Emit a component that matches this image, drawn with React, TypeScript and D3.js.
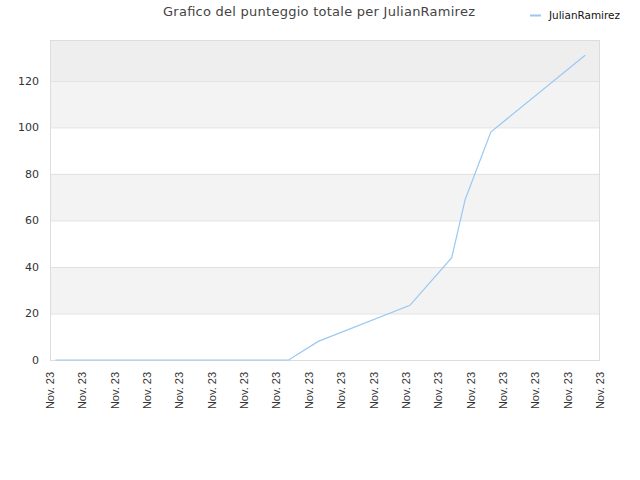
import React from "react";
import * as d3 from "d3";

// Readings
const seriesName = "JulianRamirez";
const pointTimes = [
  "2023-11-01T04:00",
  "2023-11-08T09:00",
  "2023-11-09T07:00",
  "2023-11-12T03:00",
  "2023-11-13T10:00",
  "2023-11-13T20:00",
  "2023-11-14T15:00",
  "2023-11-17T13:00",
];
const pointScores = [0, 0, 8, 23.5, 44, 69, 98, 131];
const yTicks = [0, 20, 40, 60, 80, 100, 120];
const shadedBands = [
  [20, 40],
  [60, 80],
  [100, 120],
];
const domainStart = "2023-11-01T00:00";
const domainEnd = "2023-11-18T00:00";

const W = 640;
const H = 480;
const margin = { top: 40, right: 40, bottom: 120, left: 50 };

const parse = d3.timeParse("%Y-%m-%dT%H:%M");
const fmt = d3.timeFormat("%b. %y");

export default function App() {
  const data = pointTimes.map((t, i) => ({ date: parse(t) as Date, score: pointScores[i] }));

  const x = d3
    .scaleTime()
    .domain([parse(domainStart) as Date, parse(domainEnd) as Date])
    .range([margin.left, W - margin.right]);

  const maxScore = d3.max(pointScores) || 0;
  const y = d3
    .scaleLinear()
    .domain([0, maxScore * 1.05])
    .range([H - margin.bottom, margin.top]);

  const line = d3
    .line<{ date: Date; score: number }>()
    .x((d) => x(d.date))
    .y((d) => y(d.score));

  const xTicks = x.ticks(d3.timeDay.every(1) as d3.TimeInterval);
  const top = margin.top;
  const bottom = H - margin.bottom;
  const left = margin.left;
  const right = W - margin.right;

  return (
    <svg
      width={W}
      height={H}
      style={{ position: "absolute", left: 0, top: 0, background: "#fff" }}
      fontFamily="DejaVu Sans, sans-serif"
    >
      {/* title */}
      <text
        x={319}
        y={16}
        textAnchor="middle"
        fontSize={13}
        fill="#444"
        textLength={312}
        lengthAdjust="spacing"
      >
        Grafico del punteggio totale per JulianRamirez
      </text>

      {/* legend */}
      <line x1={530} x2={541} y1={15.5} y2={15.5} stroke="#99c8f2" strokeWidth={2} />
      <text x={549} y={19} fontSize={11} fill="#111" textLength={71} lengthAdjust="spacingAndGlyphs">
        {seriesName}
      </text>

      {/* plot background bands */}
      <rect x={left} y={top} width={right - left} height={y(120) - top} fill="#eeeeee" />
      {shadedBands.map(([a, b]) => (
        <rect key={a} x={left} y={y(b)} width={right - left} height={y(a) - y(b)} fill="#f3f3f3" />
      ))}

      {/* grid lines */}
      {yTicks.slice(1).map((t) => (
        <line key={t} x1={left} x2={right} y1={y(t) + 0.5} y2={y(t) + 0.5} stroke="#e0e0e0" />
      ))}

      {/* frame */}
      <rect
        x={left + 0.5}
        y={top + 0.5}
        width={right - left - 1}
        height={bottom - top}
        fill="none"
        stroke="#dddddd"
      />

      {/* y labels */}
      {yTicks.map((t) => (
        <text key={t} x={39} y={y(t) + 4} textAnchor="end" fontSize={11} fill="#333">
          {t}
        </text>
      ))}

      {/* x labels */}
      {xTicks.map((d, i) => (
        <text
          key={i}
          transform={`translate(${x(d) + 4},${bottom + 12}) rotate(-90)`}
          textAnchor="end"
          fontSize={11}
          fontFamily="Liberation Sans, Arial, sans-serif"
          fill="#333"
        >
          {fmt(d)}
        </text>
      ))}

      {/* series */}
      <path d={line(data) || ""} fill="none" stroke="#99c8f2" strokeWidth={1.2} />
    </svg>
  );
}
